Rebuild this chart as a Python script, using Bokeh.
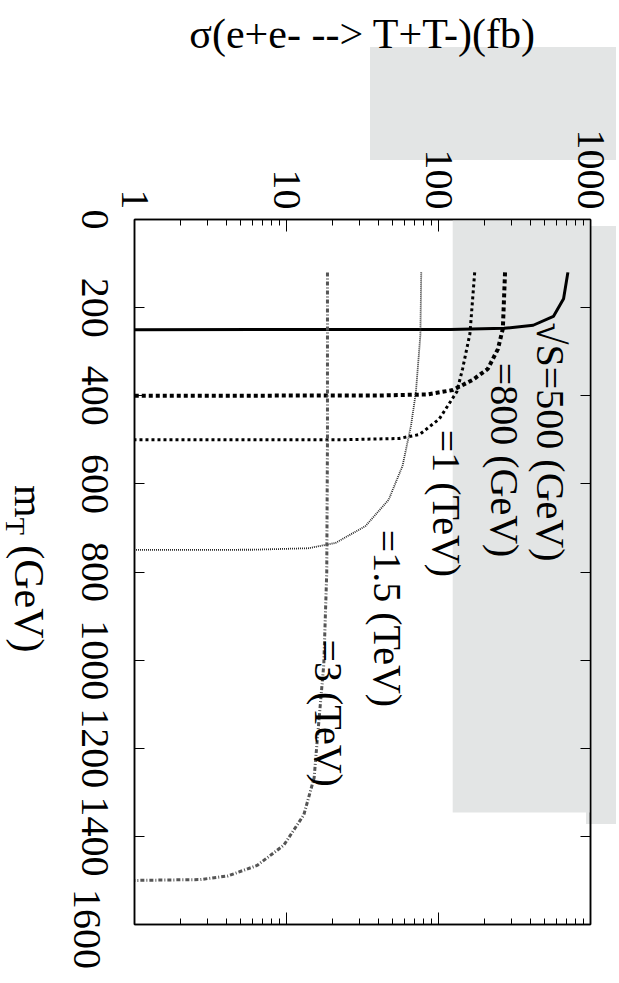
import math
from bokeh.plotting import figure
from bokeh.layouts import row
from bokeh.models import (Range1d, LogAxis, LinearAxis, FixedTicker, Label, BoxAnnotation,
                          NumeralTickFormatter, Div)
from bokeh.embed import file_html
from bokeh.resources import INLINE

# ---- data ----
mt_500 = [120, 180, 220, 240, 247, 249.5, 250]
sig_500 = [710, 665, 570, 420, 270, 120, 1]
mt_800 = [120, 248, 294, 339, 364, 387, 397, 399.5, 400]
sig_800 = [274, 265, 246, 211, 168, 124, 85, 40, 1]
mt_1000 = [120, 259, 339, 391, 453, 488, 497, 499.6, 500]
sig_1000 = [173, 161, 144, 132, 101, 75, 55, 25, 1]
mt_1500 = [120, 262, 392, 467, 559, 636, 696, 734, 746, 749.5, 750]
sig_1500 = [77, 76, 71, 66, 58, 47, 33, 21, 14, 6, 1]
mt_3000 = [120, 500, 800, 1009, 1185, 1267, 1351, 1420, 1466, 1490, 1498, 1500]
sig_3000 = [18.6, 18.6, 18.4, 17.6, 15.9, 15.2, 13.0, 9.6, 6.4, 4.1, 2.7, 1]

sigma_ticks = [1, 10, 100, 1000]
sigma_minor = [2, 3, 4, 5, 6, 7, 8, 9, 20, 30, 40, 50, 60, 70, 80, 90,
               200, 300, 400, 500, 600, 700, 800, 900]
mt_ticks = [0, 200, 400, 600, 800, 1000, 1200, 1400, 1600]
mt_tick_labels = ["0", "200", "400", "600", "800", "1000", "1200", "1400", "1600"]

curve_labels = ["\u221aS=500 (GeV)", "=800 (GeV)", "=1 (TeV)", "=1.5 (TeV)", "=3 (TeV)"]

FONT = "Liberation Serif"
SHADE = "#e3e5e5"

DIV_W = 20
FRAME_TOP = 219          # canvas px
FRAME_H = 705
MT_MAX = 1600
# rotated left-axis labels end at their anchor; shift them by half a 4-digit label
shift_px = 40
shift = shift_px * MT_MAX / FRAME_H

p = figure(width=603 - DIV_W, height=967, x_axis_type="log", x_axis_location="above",
           x_range=Range1d(1, 1000), y_range=Range1d(MT_MAX, 0),
           output_backend="svg", toolbar_location=None,
           min_border_left=124 - DIV_W, min_border_right=23, min_border_top=FRAME_TOP,
           min_border_bottom=967 - FRAME_TOP - FRAME_H)
p.extra_y_ranges = {"lbl": Range1d(MT_MAX - shift, -shift)}
p.grid.visible = False
p.outline_line_color = "black"
p.outline_line_width = 1.5
p.background_fill_color = None
p.border_fill_color = None

# scan shading inside the frame
p.add_layout(BoxAnnotation(left=124, right=1000, top=0, bottom=1346,
                           fill_color=SHADE, fill_alpha=1, line_color=None,
                           level="underlay"))

top = p.xaxis[0]
top.ticker = FixedTicker(ticks=sigma_ticks, minor_ticks=sigma_minor)
top.formatter = NumeralTickFormatter(format="0")
top.major_label_orientation = -math.pi / 2
top.major_tick_in = 12
top.major_tick_out = 0
top.minor_tick_in = 6
top.minor_tick_out = 0
top.major_label_standoff = 10
top.major_label_text_font = FONT
top.major_label_text_font_size = "40px"
top.major_label_text_color = "black"
top.axis_label = "\u03c3(e+e- --> T+T-)(fb)"
top.axis_label_text_font = FONT
top.axis_label_text_font_size = "42px"
top.axis_label_text_font_style = "normal"
top.axis_label_text_color = "black"
top.axis_label_standoff = 70
top.axis_line_width = 1.5

bottom = LogAxis(ticker=FixedTicker(ticks=sigma_ticks, minor_ticks=sigma_minor),
                 major_tick_in=12, major_tick_out=0, minor_tick_in=6, minor_tick_out=0,
                 major_label_text_font_size="10px", major_label_text_alpha=0,
                 axis_line_width=1.5)
p.add_layout(bottom, "below")

# left: tick axis (next to frame) with hidden labels
left = p.yaxis[0]
left.ticker = FixedTicker(ticks=mt_ticks, minor_ticks=[])
left.major_tick_in = 10
left.major_tick_out = 0
left.minor_tick_in = 0
left.minor_tick_out = 0
left.major_label_standoff = 0
left.major_label_text_font_size = "1px"
left.major_label_text_alpha = 0
left.axis_line_width = 1.5

# left: label axis (rotated labels, centred on the ticks via a shifted range)
pad = {1: "\u00a0\u00a0\u00a0", 3: "\u00a0", 4: ""}
overrides = {t: s + pad[len(s)] for t, s in zip(mt_ticks, mt_tick_labels)}
lbl_axis = LinearAxis(y_range_name="lbl",
                      ticker=FixedTicker(ticks=mt_ticks, minor_ticks=[]),
                      major_label_overrides=overrides,
                      major_label_orientation=-math.pi / 2,
                      major_tick_in=0, major_tick_out=0, minor_tick_in=0, minor_tick_out=0,
                      major_label_standoff=39, axis_line_color=None,
                      major_label_text_font=FONT, major_label_text_font_size="40px",
                      major_label_text_color="black")
p.add_layout(lbl_axis, "left")

right = LinearAxis(ticker=FixedTicker(ticks=mt_ticks, minor_ticks=[]),
                   major_tick_in=10, major_tick_out=0, minor_tick_in=0, minor_tick_out=0,
                   major_label_standoff=0,
                   major_label_text_font_size="1px", major_label_text_alpha=0,
                   axis_line_width=1.5)
for ax in (top, bottom, left, lbl_axis, right):
    try:
        ax.background_fill_color = None
    except Exception:
        pass
p.add_layout(right, "right")

# curves
p.line(sig_500, mt_500, line_color="black", line_width=3)
p.line(sig_800, mt_800, line_color="black", line_width=4, line_dash="4 3")
p.line(sig_1000, mt_1000, line_color="black", line_width=3, line_dash="3 3")
p.line(sig_1500, mt_1500, line_color="#2a2a2a", line_width=1.8, line_dash="1 1")
p.line(sig_3000, mt_3000, line_color="#555555", line_width=3, line_dash="4 2 1 2")

label_pos = [(546, 234), (272, 325), (113, 477), (46, 704), (18.9, 953)]
for txt, (lx, ly) in zip(curve_labels, label_pos):
    p.add_layout(Label(x=lx, y=ly, text=txt, angle=-math.pi / 2,
                       text_align="left", text_baseline="middle",
                       text_font=FONT, text_font_size="40px", text_color="black"))

# last tick label (its anchor would fall outside the frame), placed from the tick value
last_tick = mt_ticks[-1]
last_y = FRAME_TOP + last_tick * FRAME_H / MT_MAX - shift_px   # start of the text
rot = ("position:absolute; transform-origin:0 0; transform:rotate(90deg); "
       "white-space:nowrap; font-family:'Liberation Serif'; color:#000;")
html = (
    '<div style="position:absolute; left:365px; top:42px; width:246px; height:113px; '
    'background:%s;"></div>' % SHADE
    + '<div style="position:absolute; left:581px; top:221px; width:30px; height:598px; '
      'background:%s;"></div>' % SHADE
    + '<div style="%s left:45px; top:480px; font-size:42px; line-height:42px;">'
      'm<sub style="font-size:28px; line-height:0;">T</sub> (GeV)</div>' % rot
    + '<div style="%s left:%dpx; top:%dpx; font-size:40px; line-height:40px;">%s</div>'
      % (rot, 102, round(last_y), mt_tick_labels[-1])
)
div = Div(text=html, width=DIV_W, height=967, styles={"overflow": "visible"})

layout = row(div, p)
open("out.html", "w").write(file_html(layout, INLINE))
